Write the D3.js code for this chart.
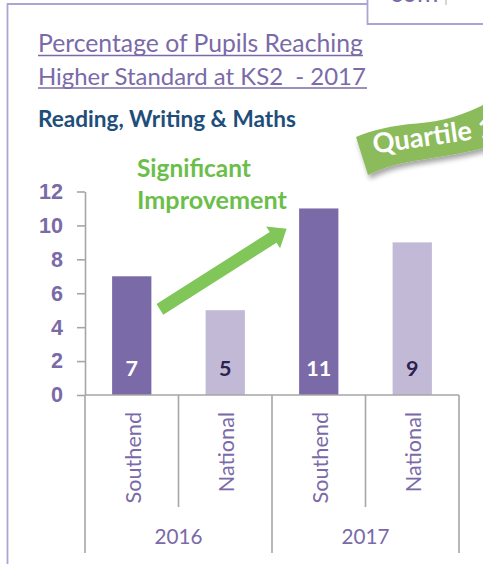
<!DOCTYPE html>
<html>
<head>
<meta charset="utf-8">
<script src="https://cdn.jsdelivr.net/npm/d3@7"></script>
<style>
  html, body { margin: 0; padding: 0; background: #fff; }
  svg { display: block; font-family: Lato, Carlito, Calibri, "Open Sans", sans-serif; }
</style>
</head>
<body>
<div id="chart"></div>
<script>
const groups = ['2016', '2016', '2017', '2017'];
const areas = ['Southend', 'National', 'Southend', 'National'];
const values = [7, 5, 11, 9];
const years = ['2016', '2017'];
const yTicks = [0, 2, 4, 6, 8, 10, 12];

const W = 483, H = 564;
const PURPLE = '#7A6AA8';
const LIGHT = '#C1B9D6';
const AXIS = '#A6A6A6';
const FRAME = '#AEA4D4';

const svg = d3.select('#chart').append('svg')
  .attr('width', W).attr('height', H);

// resize a text so it spans w pixels
const fit = (sel, w) => {
  const fs = parseFloat(sel.attr('font-size'));
  const len = sel.node().getComputedTextLength();
  sel.attr('font-size', fs * w / len);
  return sel;
};

const defs = svg.append('defs');
defs.append('filter').attr('id', 'shadow')
  .attr('x', '-20%').attr('y', '-20%').attr('width', '140%').attr('height', '160%')
  .append('feDropShadow')
  .attr('dx', 2).attr('dy', 4).attr('stdDeviation', 2.5)
  .attr('flood-color', '#000').attr('flood-opacity', 0.35);

// frame around the panel
svg.append('path')
  .attr('d', 'M7.5,564 L7.5,4 L367,4')
  .attr('fill', 'none').attr('stroke', FRAME).attr('stroke-width', 1.8);
svg.append('text')
  .attr('x', 390).attr('y', 2)
  .attr('font-size', 26).attr('fill', PURPLE)
  .text('com');
svg.append('path')
  .attr('d', 'M367.5,0 L367.5,24 L483,24')
  .attr('fill', 'none').attr('stroke', FRAME).attr('stroke-width', 1.8);
svg.append('line')
  .attr('x1', 446).attr('x2', 446).attr('y1', 0).attr('y2', 5)
  .attr('stroke', '#bbb').attr('stroke-width', 1.2);

// titles
const t1 = svg.append('text').attr('x', 38).attr('y', 52)
  .attr('font-size', 24).attr('fill', PURPLE)
  .text('Percentage of Pupils Reaching');
fit(t1, 325);
const t2 = svg.append('text').attr('x', 38).attr('y', 84.5)
  .attr('font-size', 24).attr('fill', PURPLE)
  .attr('xml:space', 'preserve')
  .text('Higher Standard at KS2  - 2017');
fit(t2, 328);
svg.append('line').attr('x1', 38).attr('x2', 363).attr('y1', 55.5).attr('y2', 55.5)
  .attr('stroke', PURPLE).attr('stroke-width', 1.5);
svg.append('line').attr('x1', 38).attr('x2', 367).attr('y1', 88).attr('y2', 88)
  .attr('stroke', PURPLE).attr('stroke-width', 1.5);

const sub = svg.append('text').attr('x', 38).attr('y', 127)
  .attr('font-size', 18).attr('font-weight', 700).attr('fill', '#1E4E7A')
  .text('Reading, Writing & Maths');
fit(sub, 258);

// scales
const keys = areas.map((a, i) => groups[i] + '|' + a);
const y = d3.scaleLinear().domain([0, 12]).range([395, 191.5]);
const slot = d3.scaleBand().domain(keys).range([85, 459]);
const x = d3.scaleBand().domain(keys).range([85, 459])
  .paddingInner(0.58).paddingOuter(0.29);
const yearScale = d3.scaleBand().domain(years).range([85, 459]);

// y axis
const yAxis = svg.append('g')
  .attr('transform', `translate(${slot.range()[0]},0)`)
  .call(d3.axisLeft(y).tickValues(yTicks).tickSize(8).tickSizeOuter(0).tickPadding(14));
yAxis.select('.domain').attr('stroke', AXIS).attr('stroke-width', 1.6);
yAxis.selectAll('.tick line').attr('stroke', AXIS).attr('stroke-width', 1.6);
const tickText = yAxis.selectAll('.tick text')
  .attr('font-family', null)
  .attr('font-size', 21).attr('font-weight', 700).attr('fill', PURPLE);
const topTick = tickText.filter(d => d === 12);
fit(topTick, 24);
const numSize = topTick.attr('font-size');
tickText.attr('font-size', numSize);

// bars
svg.append('g').selectAll('rect')
  .data(values)
  .join('rect')
  .attr('x', (d, i) => x(keys[i]))
  .attr('y', d => y(d))
  .attr('width', x.bandwidth())
  .attr('height', d => y(0) - y(d))
  .attr('fill', (d, i) => areas[i] === 'Southend' ? PURPLE : LIGHT);

svg.append('g').selectAll('text')
  .data(values)
  .join('text')
  .attr('x', (d, i) => x(keys[i]) + x.bandwidth() / 2)
  .attr('y', y(0) - 19)
  .attr('text-anchor', 'middle')
  .attr('font-size', numSize).attr('font-weight', 700)
  .attr('fill', (d, i) => areas[i] === 'Southend' ? '#fff' : '#2D2150')
  .text(d => d);

// category axis
svg.append('line')
  .attr('x1', slot.range()[0]).attr('x2', slot.range()[1])
  .attr('y1', y(0)).attr('y2', y(0))
  .attr('stroke', AXIS).attr('stroke-width', 1.6);
const bounds = keys.map(k => slot(k)).concat([slot.range()[1]]);
svg.append('g').selectAll('line')
  .data(bounds)
  .join('line')
  .attr('x1', d => d).attr('x2', d => d)
  .attr('y1', y(0))
  .attr('y2', (d, i) => i % 2 === 0 ? 553 : 507)
  .attr('stroke', AXIS).attr('stroke-width', 1.6);

const catLabels = svg.append('g').selectAll('text')
  .data(keys)
  .join('text')
  .attr('transform', (k, i) =>
    `translate(${slot(k) + slot.bandwidth() / 2 + 9},${y(0) + 17}) rotate(-90)`)
  .attr('text-anchor', 'end')
  .attr('font-size', 22).attr('fill', PURPLE)
  .text((k, i) => areas[i]);
fit(d3.select(catLabels.nodes()[0]), 91.5);
catLabels.attr('font-size', d3.select(catLabels.nodes()[0]).attr('font-size'));

const yearLabels = svg.append('g').selectAll('text')
  .data(years)
  .join('text')
  .attr('x', d => yearScale(d) + yearScale.bandwidth() / 2)
  .attr('y', 544)
  .attr('text-anchor', 'middle')
  .attr('font-size', 22).attr('fill', PURPLE)
  .text(d => d);
fit(d3.select(yearLabels.nodes()[0]), 48);
yearLabels.attr('font-size', d3.select(yearLabels.nodes()[0]).attr('font-size'));

// improvement arrow, from Southend 2016 to Southend 2017
const tail = [x(keys[0]) + x.bandwidth() + 8.5, y(5.05)];
const tip = [x(keys[2]) - 12.5, y(9.8)];
const len = Math.hypot(tip[0] - tail[0], tip[1] - tail[1]);
const ang = Math.atan2(tip[1] - tail[1], tip[0] - tail[0]) * 180 / Math.PI;
const sw = 6.3, hw = 13, hl = 16;
svg.append('path')
  .attr('transform', `translate(${tail[0]},${tail[1]}) rotate(${ang})`)
  .attr('d', `M0,${-sw} L${len - hl},${-sw} L${len - hl},${-hw} L${len},0 L${len - hl},${hw} L${len - hl},${sw} L0,${sw} Z`)
  .attr('fill', '#80C658');

const g1 = svg.append('text').attr('x', 137).attr('y', 177)
  .attr('font-size', 22).attr('font-weight', 700).attr('fill', '#6CBE4A')
  .text('Significant');
fit(g1, 114);
const g2 = svg.append('text').attr('x', 137).attr('y', 208.5)
  .attr('font-size', 22).attr('font-weight', 700).attr('fill', '#6CBE4A')
  .text('Improvement');
fit(g2, 150);

// Quartile 1 ribbon
svg.append('path')
  .attr('d', 'M356,137 C372,130 392,125.5 417,123.5 C442,121 464,116 492,100 L492,146 C470,152 446,156 420,160 C398,163 382,168 368,175 Z')
  .attr('fill', '#8CBB5C')
  .attr('filter', 'url(#shadow)');
const q = svg.append('text')
  .attr('transform', 'translate(374,153.5) rotate(-8)')
  .attr('font-size', 26).attr('font-weight', 700).attr('fill', '#fff')
  .text('Quartile 1');
{
  const fs = parseFloat(q.attr('font-size'));
  const l = q.node().getSubStringLength(0, 8);
  q.attr('font-size', fs * 100 / l);
}
</script>
</body>
</html>
